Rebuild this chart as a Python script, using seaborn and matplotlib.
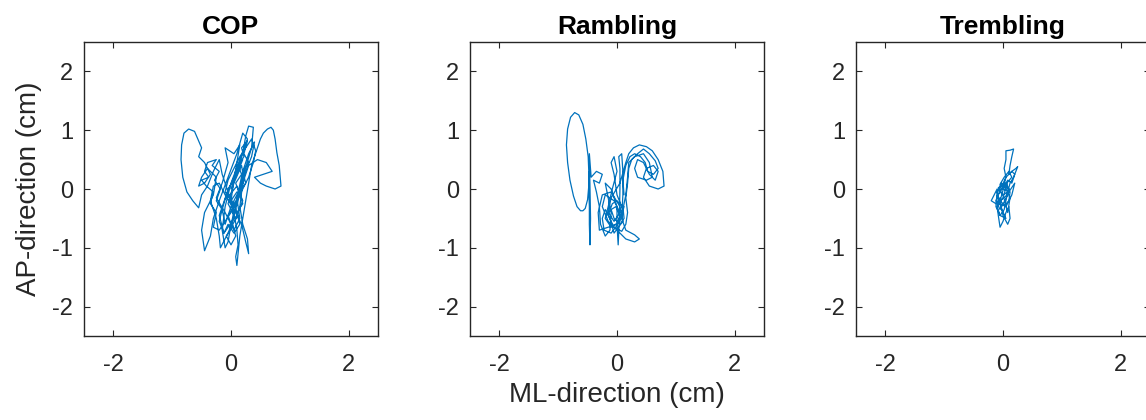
import matplotlib
matplotlib.use("Agg")
import matplotlib.pyplot as plt
import seaborn as sns
import pandas as pd

# ---------------- data (data units in cm) ----------------
titles = ["COP", "Rambling", "Trembling"]
x_ticks = [-2, 0, 2]
y_ticks = [-2, -1, 0, 1, 2]

cop_x = [0.0, 0.1, 0.2, 0.25, 0.3, 0.38, 0.35, 0.2, 0.1, 0.0, -0.05, -0.1, -0.15, -0.1, 0.0,
         0.15, 0.28, 0.2, 0.1, -0.05, -0.2, -0.3, -0.35, -0.45, -0.5, -0.45, -0.3, -0.25, -0.4,
         -0.5, -0.55, -0.45, -0.35, -0.45, -0.55, -0.5, -0.62, -0.72, -0.8, -0.84, -0.85, -0.82,
         -0.75, -0.65, -0.55, -0.5, -0.4, -0.3, -0.2, -0.15, -0.05, 0.05, 0.1, 0.12, 0.08, 0.1,
         0.12, 0.15, 0.2, 0.25, 0.3, 0.35, 0.45, 0.5, 0.55, 0.62, 0.68, 0.72, 0.75, 0.78, 0.82,
         0.85, 0.75, 0.6, 0.5, 0.4, 0.55, 0.7, 0.6, 0.45, 0.3, 0.2, 0.15, 0.2, 0.28, 0.3, 0.25,
         0.18, 0.05, -0.1, -0.2, -0.3, -0.35, -0.25, -0.2, -0.18, -0.05, 0.05, 0.0, 0.05, 0.1,
         0.15, 0.05, -0.1, -0.05, -0.15, -0.25, -0.1, 0.05, 0.15, 0.1, 0.2, 0.3, 0.4, 0.35, 0.25,
         0.15, 0.0, -0.1, -0.15, -0.05, 0.1, 0.2, 0.05, -0.08, -0.2, -0.12, 0.02, 0.12, 0.22,
         0.18, 0.05, -0.05, 0.08, 0.2, 0.1, -0.02,
         0.05, -0.05, 0.02, -0.08, 0.0, 0.08, 0.03, 0.12, 0.05, 0.15, 0.08, 0.18, 0.12, 0.22,
         0.18, 0.28, 0.22, 0.3, 0.2, 0.25, 0.15, 0.2, 0.1, 0.15, 0.05, -0.05, -0.12, -0.2, -0.15,
         -0.25, -0.18, -0.28, -0.2, -0.32, -0.25, -0.4, -0.45, -0.38, -0.5, -0.42, -0.3, -0.35,
         -0.25, -0.3, -0.2, -0.1, 0.0, 0.1, 0.2, 0.3, 0.38, 0.42, 0.35, 0.25, 0.15, 0.05, -0.05,
         -0.1, 0.0, 0.1]
cop_y = [0.0, 0.3, 0.6, 0.9, 1.07, 1.05, 0.7, 0.2, -0.2, -0.6, -0.9, -1.0, -0.7, -0.3, 0.1,
         0.5, 0.85, 0.95, 0.6, 0.2, -0.2, -0.5, -0.8, -1.05, -0.7, -0.4, -0.1, 0.2, 0.35,
         0.2, 0.05, 0.1, 0.25, 0.45, 0.55, 0.7, 0.98, 1.02, 0.95, 0.75, 0.5, 0.2,
         -0.05, -0.2, -0.32, -0.1, 0.05, 0.3, 0.5, 0.25, -0.05, -0.4, -0.7, -0.95, -1.15, -1.3,
         -1.1, -0.8, -0.5, -0.2, 0.1, 0.4, 0.7, 0.85, 0.95, 1.02, 1.05, 1.0, 0.85, 0.62, 0.4,
         0.05, 0.0, 0.05, 0.1, 0.2, 0.25, 0.3, 0.45, 0.5, 0.4, 0.1, -0.3, -0.6, -0.85, -1.1, -0.9,
         -0.6, -0.35, -0.1, 0.1, 0.05, -0.2, -0.5, -0.8, -1.0, -0.75, -0.5, -0.2, 0.15, 0.45,
         0.75, 0.6, 0.7, 0.45, 0.1, -0.15, -0.4, -0.7, -0.5, -0.15, 0.3, 0.6, 0.8, 0.55, 0.3,
         0.0, -0.3, -0.6, -0.35, 0.0, 0.25, 0.5, 0.2, -0.1, -0.45, -0.75, -0.55, -0.2, 0.15,
         0.4, 0.1, -0.25, -0.5, -0.2, 0.05, -0.1,
         -0.3, -0.45, -0.65, -0.8, -0.95, -0.8, -0.6, -0.45, -0.25, -0.1, 0.1, 0.25, 0.4, 0.55,
         0.7, 0.82, 0.6, 0.45, 0.3, 0.1, -0.05, -0.25, -0.4, -0.6, -0.75, -0.6, -0.75, -0.55, -0.35,
         -0.2, 0.0, 0.15, 0.3, 0.4, 0.5, 0.45, 0.3, 0.2, 0.15, 0.05, -0.05, -0.25,
         -0.4, -0.65, -0.7, -0.55, -0.4, -0.2, 0.0, 0.2, 0.45, 0.65, 0.85, 0.7, 0.55, 0.35, 0.15,
         -0.05, -0.2, -0.05]

ram_x = [-0.47, -0.48, -0.5, -0.54, -0.58, -0.62, -0.68, -0.74, -0.8, -0.84, -0.86, -0.84,
         -0.79, -0.72, -0.65, -0.58, -0.53, -0.49, -0.48, -0.48, -0.47, -0.47, -0.46, -0.45,
         -0.47, -0.44, -0.35,
         -0.25, -0.3, -0.4, -0.35, -0.3, -0.28, -0.2, -0.12, -0.1, -0.15, -0.2, -0.1, 0.0, 0.0,
         0.02, 0.04, 0.05, 0.05, 0.03, 0.08, 0.1, 0.1, 0.08, 0.15, 0.3, 0.38, 0.3, 0.15, 0.0,
         -0.15, -0.25, -0.2, -0.05, 0.05, -0.05, -0.15, -0.1, 0.05, 0.15, 0.2, 0.28, 0.38, 0.5,
         0.6, 0.7, 0.78, 0.8, 0.7, 0.55, 0.45, 0.5, 0.62, 0.7, 0.65, 0.55, 0.45, 0.35, 0.3, 0.35,
         0.5, 0.6, 0.55, 0.45, 0.3, 0.2, 0.18, 0.15, 0.1, 0.0, -0.05, -0.1, -0.05, 0.0, -0.08,
         -0.15, -0.2, -0.1, 0.05, 0.12, 0.0, -0.3, -0.32, -0.25, -0.1, 0.05, 0.1, -0.05, -0.12,
         -0.2, -0.25, -0.22, -0.1, 0.0, 0.05, -0.02, -0.1, -0.05, 0.05, 0.12, 0.1, 0.0, -0.08,
         -0.15, -0.05, 0.08, 0.15, 0.18, 0.15, 0.18, 0.2, 0.25, 0.35, 0.45, 0.55, 0.65, 0.7,
         0.62, 0.52, 0.48, 0.4, 0.3, 0.22, 0.15, 0.1, 0.12]
ram_y = [0.3, 0.05, -0.18, -0.33, -0.37, -0.37, -0.3, -0.12, 0.15, 0.45, 0.75, 1.02,
         1.22, 1.3, 1.26, 1.1, 0.85, 0.55, 0.3, 0.0, -0.3, -0.6, -0.95, -0.5,
         0.6, 0.2, 0.3,
         0.25, 0.1, 0.15, -0.05, -0.3, -0.6, -0.8, -0.7, -0.4, -0.15, 0.1, 0.0, -0.3, -0.6,
         -0.95, -0.5, 0.0, 0.35, 0.55, 0.6, 0.3, -0.1, -0.5, -0.7, -0.78, -0.85, -0.9, -0.85, -0.7,
         -0.55, -0.3, -0.1, -0.2, -0.4, -0.55, -0.4, -0.15, 0.1, 0.45, 0.6, 0.7, 0.75, 0.72,
         0.65, 0.5, 0.3, 0.05, 0.0, 0.05, 0.2, 0.35, 0.4, 0.3, 0.15, 0.25, 0.45, 0.5, 0.35, 0.2,
         0.15, 0.2, 0.45, 0.6, 0.55, 0.45, 0.2, -0.1, -0.35, -0.1, 0.25, 0.45, 0.55, 0.3, 0.0,
         -0.3, -0.5, -0.65, -0.55, -0.3, -0.6, -0.7, -0.4, -0.1, -0.05, -0.3, -0.55, -0.75, -0.5,
         -0.35, -0.5, -0.7, -0.75, -0.62, -0.45, -0.3, -0.35, -0.5, -0.6, -0.5, -0.3, -0.2, -0.25,
         -0.45, -0.65, -0.72, -0.6, -0.4, -0.15, 0.1, 0.35, 0.5, 0.6, 0.68, 0.6, 0.48, 0.35,
         0.25, 0.3, 0.45, 0.55, 0.6, 0.55, 0.4, 0.15, -0.1]

tre_x = [0.0, 0.05, 0.02, 0.05, 0.05, 0.12, 0.18, 0.15, 0.12, 0.1, 0.15, 0.22, 0.25, 0.18,
         0.12, 0.08, 0.0, -0.05, -0.1, -0.15, -0.2, -0.12, -0.05, -0.1, -0.08, -0.05, 0.0,
         0.05, 0.1, 0.12, 0.08, 0.0, -0.05, 0.02, 0.08, 0.15, 0.2, 0.15, 0.05, -0.02, -0.1,
         -0.12, -0.05, 0.02, 0.06, 0.1, 0.05, -0.02, -0.08, -0.12, -0.05, 0.03, 0.1, 0.2,
         0.15, 0.05, -0.05, -0.1, -0.03, 0.05, 0.12, 0.08, 0.0,
         -0.08, 0.02, 0.1, 0.05, -0.05, 0.03, 0.1, 0.12, 0.05, -0.03, -0.1, -0.02, 0.05, -0.05,
         -0.1, 0.0, 0.08, 0.15, 0.1, 0.02, -0.05, 0.03]
tre_y = [0.0, 0.2, 0.35, 0.5, 0.65, 0.66, 0.68, 0.55, 0.4, 0.25, 0.3, 0.35, 0.38, 0.2,
         0.1, -0.05, -0.1, -0.05, 0.0, -0.1, -0.2, -0.25, -0.15, -0.3, -0.45, -0.65, -0.55,
         -0.4, -0.3, -0.5, -0.6, -0.45, -0.2, 0.05, 0.15, 0.1, 0.25, 0.3, 0.2, 0.05, -0.05,
         -0.3, -0.45, -0.35, -0.15, 0.0, 0.1, 0.0, -0.1, -0.2, -0.35, -0.2, -0.05, 0.1,
         -0.1, -0.3, -0.25, -0.05, 0.1, 0.0, -0.15, -0.4, -0.1,
         0.02, 0.08, 0.0, -0.12, -0.2, -0.28, -0.2, -0.05, 0.05, 0.0, -0.12, -0.35, -0.5, -0.45,
         -0.3, -0.15, 0.12, 0.2, 0.3, 0.2, 0.08, -0.02]

series = [(cop_x, cop_y), (ram_x, ram_y), (tre_x, tre_y)]

# ---------------- style ----------------
sns.set_theme(style="white")
plt.rcParams["font.family"] = ["Liberation Sans", "DejaVu Sans"]
dark = "#262626"
blue = "#0072BD"

fig = plt.figure(figsize=(11.46, 4.2), dpi=100)
lefts = [84 / 1146, 470 / 1146, 856 / 1146]
w = 294 / 1146
h = 294 / 420
b = 84 / 420

for i, (title, (xs, ys)) in enumerate(zip(titles, series)):
    ax = fig.add_axes([lefts[i], b, w, h])
    df = pd.DataFrame({"x": xs, "y": ys})
    sns.lineplot(data=df, x="x", y="y", sort=False, estimator=None,
                 color=blue, lw=0.9, ax=ax)
    ax.set_xlim(-2.5, 2.5)
    ax.set_ylim(-2.5, 2.5)
    ax.set_xticks(x_ticks)
    ax.set_yticks(y_ticks)
    ax.set_xticklabels([str(t) for t in x_ticks])
    ax.set_yticklabels([str(t) for t in y_ticks])
    ax.tick_params(direction="in", length=4, width=0.8, colors=dark,
                   labelsize=17, top=True, right=True, bottom=True, left=True)
    ax.tick_params(axis="x", pad=13)
    ax.tick_params(axis="y", pad=8)
    for s in ax.spines.values():
        s.set_visible(True)
        s.set_color(dark)
        s.set_linewidth(1.0)
    ax.set_title(title, fontsize=19, fontweight="bold", color="black", pad=6)
    ax.set_xlabel("")
    ax.set_ylabel("")
    if i == 0:
        ax.set_ylabel("AP-direction (cm)", fontsize=20, color=dark, labelpad=7)
    if i == 1:
        ax.set_xlabel("ML-direction (cm)", fontsize=20, color=dark, labelpad=4)

fig.savefig("out.png", dpi=100)
